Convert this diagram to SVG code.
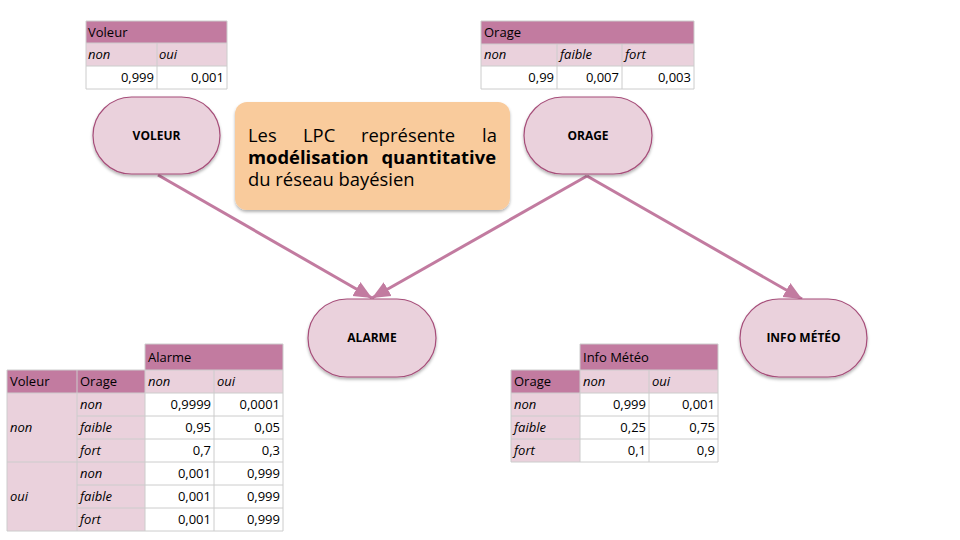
<svg xmlns="http://www.w3.org/2000/svg" width="960" height="540" viewBox="0 0 960 540">
<defs>
<style>
.t{font-family:"Open Sans","Noto Sans",sans-serif;font-size:13px;fill:#000}
.i{font-style:italic}
.r{text-anchor:end}
.hd{fill:#c27ba0}
.lt{fill:#ead1dc}
.wh{fill:#fff}
.g{stroke:#cccccc;stroke-width:1;fill:none}
.node{fill:#ead1dc;stroke:#a64d79;stroke-width:1.2}
.nl{font-family:"Open Sans","Noto Sans",sans-serif;font-size:12px;font-weight:bold;text-anchor:middle;fill:#000}
.bx{font-family:"Open Sans","Noto Sans",sans-serif;font-size:18.4px;fill:#000}
.edge{stroke:#c27ba0;stroke-width:3;fill:none}
</style>
<filter id="sh" x="-20%" y="-20%" width="140%" height="150%">
<feDropShadow dx="0" dy="2" stdDeviation="1.5" flood-color="#000" flood-opacity="0.3"/>
</filter>
<marker id="ah" markerUnits="userSpaceOnUse" markerWidth="20" markerHeight="18" refX="18" refY="9" orient="auto">
<path d="M0,1 L18,9 L0,17 Z" fill="#c27ba0"/>
</marker>
</defs>

<!-- Voleur table -->
<g id="table-voleur">
<rect x="86" y="21" width="141" height="22" class="hd"/>
<rect x="86" y="43" width="141" height="23" class="lt"/>
<rect x="86" y="66" width="141" height="23" class="wh"/>
<path class="g" d="M86,21H227M86,43H227M86,66H227M86,89H227M86,21V89M227,21V89M157,43V89"/>
<text class="t" x="88" y="37">Voleur</text>
<text class="t i" x="88" y="59">non</text>
<text class="t i" x="159" y="59">oui</text>
<text class="t r" x="154" y="82">0,999</text>
<text class="t r" x="224" y="82">0,001</text>
</g>

<!-- Orage table -->
<g id="table-orage">
<rect x="481" y="21" width="213" height="23" class="hd"/>
<rect x="481" y="44" width="213" height="22" class="lt"/>
<rect x="481" y="66" width="213" height="23" class="wh"/>
<path class="g" d="M481,21H694M481,44H694M481,66H694M481,89H694M481,21V89M694,21V89M557,44V89M622,44V89"/>
<text class="t" x="484" y="37">Orage</text>
<text class="t i" x="484" y="59">non</text>
<text class="t i" x="560" y="59">faible</text>
<text class="t i" x="625" y="59">fort</text>
<text class="t r" x="554" y="82">0,99</text>
<text class="t r" x="619" y="82">0,007</text>
<text class="t r" x="691" y="82">0,003</text>
</g>

<!-- Alarme table -->
<g id="table-alarme">
<rect x="145" y="344" width="138" height="26" class="hd"/>
<rect x="7" y="370" width="138" height="23" class="hd"/>
<rect x="145" y="370" width="138" height="23" class="lt"/>
<rect x="7" y="393" width="138" height="138" class="lt"/>
<rect x="145" y="393" width="138" height="138" class="wh"/>
<path class="g" d="M145,344H283M7,370H283M7,393H283M77,416H283M77,439H283M7,462H283M77,485H283M77,508H283M7,531H283M145,344V531M283,344V531M7,370V531M77,370V531M214,370V531"/>
<text class="t" x="148" y="362">Alarme</text>
<text class="t" x="10" y="386">Voleur</text>
<text class="t" x="80" y="386">Orage</text>
<text class="t i" x="148" y="386">non</text>
<text class="t i" x="217" y="386">oui</text>
<text class="t i" x="10" y="432">non</text>
<text class="t i" x="10" y="501">oui</text>
<text class="t i" x="80" y="409">non</text>
<text class="t i" x="80" y="432">faible</text>
<text class="t i" x="80" y="455">fort</text>
<text class="t i" x="80" y="478">non</text>
<text class="t i" x="80" y="501">faible</text>
<text class="t i" x="80" y="524">fort</text>
<text class="t r" x="211" y="409">0,9999</text>
<text class="t r" x="280" y="409">0,0001</text>
<text class="t r" x="211" y="432">0,95</text>
<text class="t r" x="280" y="432">0,05</text>
<text class="t r" x="211" y="455">0,7</text>
<text class="t r" x="280" y="455">0,3</text>
<text class="t r" x="211" y="478">0,001</text>
<text class="t r" x="280" y="478">0,999</text>
<text class="t r" x="211" y="501">0,001</text>
<text class="t r" x="280" y="501">0,999</text>
<text class="t r" x="211" y="524">0,001</text>
<text class="t r" x="280" y="524">0,999</text>
</g>

<!-- Info Meteo table -->
<g id="table-info-meteo">
<rect x="580" y="344" width="138" height="26" class="hd"/>
<rect x="511" y="370" width="69" height="23" class="hd"/>
<rect x="580" y="370" width="138" height="23" class="lt"/>
<rect x="511" y="393" width="69" height="69" class="lt"/>
<rect x="580" y="393" width="138" height="69" class="wh"/>
<path class="g" d="M580,344H718M511,370H718M511,393H718M511,416H718M511,439H718M511,462H718M580,344V462M718,344V462M511,370V462M649,370V462"/>
<text class="t" x="583" y="362">Info Météo</text>
<text class="t" x="514" y="386">Orage</text>
<text class="t i" x="583" y="386">non</text>
<text class="t i" x="652" y="386">oui</text>
<text class="t i" x="514" y="409">non</text>
<text class="t i" x="514" y="432">faible</text>
<text class="t i" x="514" y="455">fort</text>
<text class="t r" x="646" y="409">0,999</text>
<text class="t r" x="715" y="409">0,001</text>
<text class="t r" x="646" y="432">0,25</text>
<text class="t r" x="715" y="432">0,75</text>
<text class="t r" x="646" y="455">0,1</text>
<text class="t r" x="715" y="455">0,9</text>
</g>

<!-- Connectors -->
<g id="connectors">
<line class="edge" x1="158" y1="175" x2="372" y2="298" marker-end="url(#ah)"/>
<line class="edge" x1="587" y1="176" x2="372" y2="298" marker-end="url(#ah)"/>
<line class="edge" x1="587" y1="176" x2="802" y2="299" marker-end="url(#ah)"/>
</g>

<!-- Nodes -->
<g id="node-voleur">
<rect x="93" y="97" width="127" height="77" rx="38.5" class="node" filter="url(#sh)"/>
<text class="nl" x="156.5" y="140">VOLEUR</text>
</g>
<g id="node-orage">
<rect x="524" y="97" width="128" height="77" rx="38.5" class="node" filter="url(#sh)"/>
<text class="nl" x="588" y="140">ORAGE</text>
</g>
<g id="node-alarme">
<rect x="308" y="299" width="128" height="78" rx="39" class="node" filter="url(#sh)"/>
<text class="nl" x="372" y="342">ALARME</text>
</g>
<g id="node-info-meteo">
<rect x="740" y="299" width="127" height="78" rx="39" class="node" filter="url(#sh)"/>
<text class="nl" x="803.5" y="342">INFO MÉTÉO</text>
</g>

<!-- Note box -->
<g id="note">
<rect x="235" y="102" width="275" height="108" rx="12" fill="#f9cb9c" filter="url(#sh)"/>
<text class="bx" y="142"><tspan x="248">Les</tspan><tspan x="303">LPC</tspan><tspan x="361">représente</tspan><tspan x="482">la</tspan></text>
<text class="bx" y="164" font-weight="bold"><tspan x="248">modélisation</tspan><tspan x="496" text-anchor="end">quantitative</tspan></text>
<text class="bx" x="248" y="186">du réseau bayésien</text>
</g>
</svg>
